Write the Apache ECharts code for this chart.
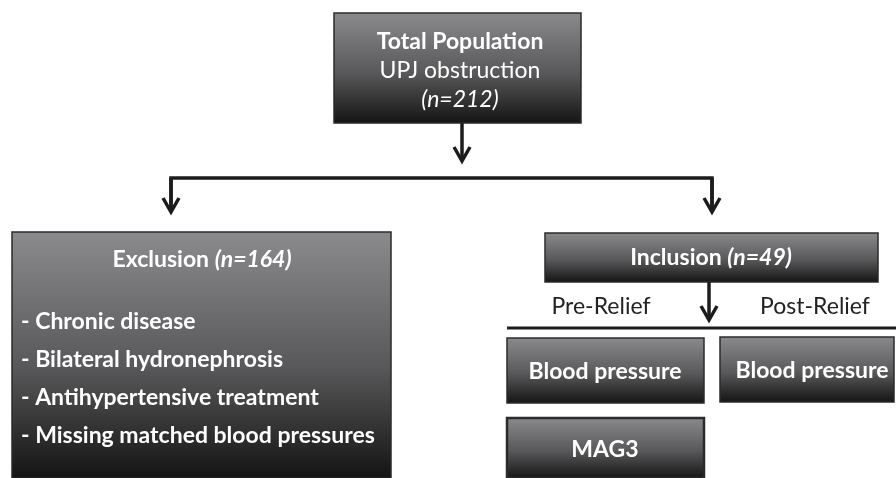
<!DOCTYPE html>
<html>
<head>
<meta charset="utf-8">
<script src="https://cdn.jsdelivr.net/npm/echarts@6/dist/echarts.min.js"></script>
<style>
  html, body { margin: 0; padding: 0; background: #fff; }
  #main { width: 896px; height: 478px; }
</style>
</head>
<body>
<div id="main"></div>
<script>
// flowchart content
const topTitle = 'Total Population';
const topSubtitle = 'UPJ obstruction';
const totalN = 212;
const exclusionTitle = 'Exclusion';
const exclusionN = 164;
const exclusionReasons = ['Chronic disease', 'Bilateral hydronephrosis', 'Antihypertensive treatment', 'Missing matched blood pressures'];
const inclusionTitle = 'Inclusion';
const inclusionN = 49;
const phaseLabels = ['Pre-Relief', 'Post-Relief'];
const preItems = ['Blood pressure', 'MAG3'];
const postItems = ['Blood pressure'];

let myChart = echarts.init(document.getElementById('main'));

const FONT = 'Lato, "Open Sans", sans-serif';
const LINE = '#1c1c1c';

function boxFill(){
    return new echarts.graphic.LinearGradient(0, 0, 0, 1, [
        {offset: 0, color: '#8b8b8e'},
        {offset: 0.55, color: '#58585a'},
        {offset: 0.85, color: '#2a2a2a'},
        {offset: 1, color: '#141414'}
    ]);
}
function box(x, y, w, h, lw){
    return {
        type: 'rect',
        shape: {x: x, y: y, width: w, height: h},
        style: {fill: boxFill(), stroke: '#2b2b2b', lineWidth: lw || 1.5}
    };
}
function label(x, y, text, rich, align){
    return {
        type: 'text',
        x: x, y: y,
        style: {
            text: text, rich: rich, fill: '#fff',
            font: 'bold 23px ' + FONT,
            align: align || 'center', verticalAlign: 'middle'
        }
    };
}
function arrowDown(x, y1, y2){
    return [
        {type: 'polyline', shape: {points: [[x, y1], [x, y2 - 1]]}, style: {stroke: LINE, lineWidth: 3.5}},
        {type: 'polyline', shape: {points: [[x - 8, y2 - 14], [x, y2], [x + 8, y2 - 14]]}, style: {stroke: LINE, lineWidth: 3.5, fill: null}}
    ];
}

const rich = {
    b: {fill: '#fff', font: 'bold 23px ' + FONT},
    bi: {fill: '#fff', font: 'italic bold 23px ' + FONT},
    r: {fill: '#fff', font: '23px ' + FONT},
    i: {fill: '#fff', font: 'italic 23px ' + FONT}
};
const darkRich = {r: {fill: '#222', font: '23px ' + FONT}};

let els = [];
// top box
els.push(box(334, 13, 247, 110));
els.push(label(460, 42, '{b|' + topTitle + '}', rich));
els.push(label(460, 71, '{r|' + topSubtitle + '}', rich));
els.push(label(460, 100, '{i|(n=' + totalN + ')}', rich));
// connectors
els = els.concat(arrowDown(462, 123, 161));
els.push({type: 'polyline', shape: {points: [[171, 212], [171, 178], [712, 178], [712, 212]]}, style: {stroke: LINE, lineWidth: 3.5, fill: null}});
els = els.concat(arrowDown(171, 178, 212));
els = els.concat(arrowDown(712, 178, 212));
// exclusion
els.push(box(12, 232, 379, 246));
els.push(label(202, 260, '{b|' + exclusionTitle + '} {bi|(n=' + exclusionN + ')}', rich));
exclusionReasons.forEach(function(r, i){
    els.push(label(21, 322 + i * 38, '{b|- ' + r + '}', rich, 'left'));
});
// inclusion
els.push(box(545, 233, 333, 49));
els.push(label(711, 258, '{b|' + inclusionTitle + '} {bi|(n=' + inclusionN + ')}', rich));
els = els.concat(arrowDown(709, 282, 320));
els.push(label(601, 307, '{r|' + phaseLabels[0] + '}', darkRich));
els.push(label(815, 307, '{r|' + phaseLabels[1] + '}', darkRich));
els.push({type: 'line', shape: {x1: 507, y1: 328, x2: 896, y2: 328}, style: {stroke: LINE, lineWidth: 3}});
// pre / post boxes
els.push(box(507, 338, 197, 65));
els.push(label(605, 372, '{b|' + preItems[0] + '}', rich));
els.push(box(507, 418, 197, 60, 2.5));
els.push(label(605, 450, '{b|' + preItems[1] + '}', rich));
els.push(box(720, 337, 174, 65));
els.push(label(812, 371, '{b|' + postItems[0] + '}', rich));

myChart.setOption({
    animation: false,
    graphic: {elements: els}
});
</script>
</body>
</html>
